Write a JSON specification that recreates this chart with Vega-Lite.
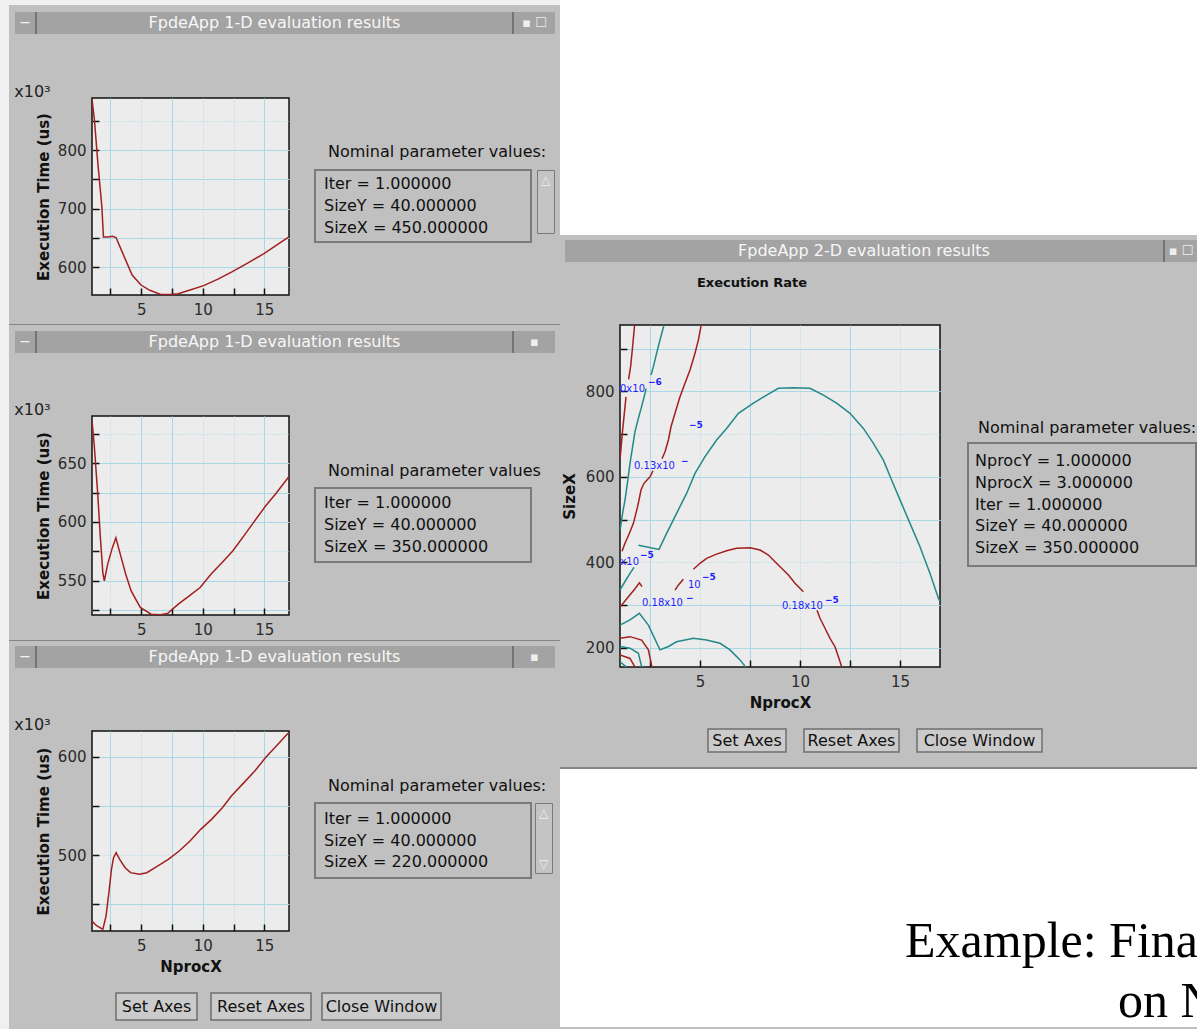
{
"$schema": "https://vega.github.io/schema/vega-lite/v6.json",
"background": "#c0c0c0",
"padding": 0,
"spacing": 0,
"config": {
  "font": "DejaVu Sans",
  "view": {"stroke": null},
  "axis": {"domain": false, "grid": true, "gridColor": "#a8d8e6", "gridWidth": 1, "ticks": true, "tickColor": "#111111", "tickSize": -7, "tickWidth": 1.5, "labelFont": "DejaVu Sans", "labelFontSize": 15, "labelColor": "#2b2b2b", "labelFlush": false, "labelOverlap": false, "titleFont": "DejaVu Sans", "titleFontSize": 15, "titleFontWeight": "bold", "titleColor": "#111111"},
  "axisX": {"labelPadding": 14, "titlePadding": 6},
  "axisY": {"labelPadding": 13, "titlePadding": 6}
},
"datasets": {
  "w1": [
    {"nprocx": 1.0, "exec_time": 887}, {"nprocx": 1.2, "exec_time": 851}, {"nprocx": 1.5, "exec_time": 772}, {"nprocx": 1.8, "exec_time": 704},
    {"nprocx": 1.93, "exec_time": 652}, {"nprocx": 2.3, "exec_time": 652}, {"nprocx": 2.66, "exec_time": 653}, {"nprocx": 2.95, "exec_time": 651},
    {"nprocx": 3.5, "exec_time": 624}, {"nprocx": 4.26, "exec_time": 587}, {"nprocx": 4.98, "exec_time": 570}, {"nprocx": 5.7, "exec_time": 561},
    {"nprocx": 6.58, "exec_time": 554}, {"nprocx": 7.3, "exec_time": 554}, {"nprocx": 8.0, "exec_time": 555}, {"nprocx": 8.9, "exec_time": 561},
    {"nprocx": 10.07, "exec_time": 569}, {"nprocx": 11.23, "exec_time": 580}, {"nprocx": 12.4, "exec_time": 593}, {"nprocx": 13.85, "exec_time": 610},
    {"nprocx": 15.0, "exec_time": 624}, {"nprocx": 16.2, "exec_time": 641}, {"nprocx": 17.0, "exec_time": 652}
  ],
  "w2": [
    {"nprocx": 1.0, "exec_time": 686.6}, {"nprocx": 1.18, "exec_time": 665.5}, {"nprocx": 1.47, "exec_time": 623.2}, {"nprocx": 1.68, "exec_time": 586.6},
    {"nprocx": 1.88, "exec_time": 557}, {"nprocx": 2.0, "exec_time": 549.9}, {"nprocx": 2.27, "exec_time": 564}, {"nprocx": 2.65, "exec_time": 578},
    {"nprocx": 2.94, "exec_time": 586.6}, {"nprocx": 3.3, "exec_time": 572.5}, {"nprocx": 3.74, "exec_time": 555.6}, {"nprocx": 4.18, "exec_time": 541.5},
    {"nprocx": 4.92, "exec_time": 527.4}, {"nprocx": 5.8, "exec_time": 521.7}, {"nprocx": 6.54, "exec_time": 521.2}, {"nprocx": 7.13, "exec_time": 522.3},
    {"nprocx": 8.01, "exec_time": 530.2}, {"nprocx": 8.9, "exec_time": 537.2}, {"nprocx": 9.78, "exec_time": 544.3}, {"nprocx": 10.66, "exec_time": 555.6},
    {"nprocx": 11.55, "exec_time": 565.4}, {"nprocx": 12.43, "exec_time": 575.3}, {"nprocx": 13.32, "exec_time": 588}, {"nprocx": 14.2, "exec_time": 600.7},
    {"nprocx": 15.08, "exec_time": 613.3}, {"nprocx": 15.97, "exec_time": 624.6}, {"nprocx": 17.0, "exec_time": 638.7}
  ],
  "w3": [
    {"nprocx": 1.0, "exec_time": 433}, {"nprocx": 1.35, "exec_time": 428.6}, {"nprocx": 1.88, "exec_time": 424.6}, {"nprocx": 2.14, "exec_time": 438.1},
    {"nprocx": 2.37, "exec_time": 461.8}, {"nprocx": 2.58, "exec_time": 485.5}, {"nprocx": 2.75, "exec_time": 497.4}, {"nprocx": 2.96, "exec_time": 502.5},
    {"nprocx": 3.25, "exec_time": 495.7}, {"nprocx": 3.69, "exec_time": 487.2}, {"nprocx": 4.13, "exec_time": 482.2}, {"nprocx": 4.86, "exec_time": 480.5},
    {"nprocx": 5.45, "exec_time": 482.2}, {"nprocx": 6.32, "exec_time": 488.9}, {"nprocx": 7.2, "exec_time": 495.7}, {"nprocx": 8.08, "exec_time": 504.2},
    {"nprocx": 8.96, "exec_time": 514.3}, {"nprocx": 9.83, "exec_time": 526.2}, {"nprocx": 10.71, "exec_time": 536.3}, {"nprocx": 11.59, "exec_time": 548.2},
    {"nprocx": 12.32, "exec_time": 560}, {"nprocx": 13.34, "exec_time": 573.6}, {"nprocx": 14.22, "exec_time": 585.4}, {"nprocx": 15.1, "exec_time": 599},
    {"nprocx": 15.97, "exec_time": 610.8}, {"nprocx": 16.85, "exec_time": 622.7}, {"nprocx": 17.0, "exec_time": 624.4}
  ],
  "par1": [{"row": 1, "line": "Iter = 1.000000"}, {"row": 2, "line": "SizeY = 40.000000"}, {"row": 3, "line": "SizeX = 450.000000"}],
  "par2": [{"row": 1, "line": "Iter = 1.000000"}, {"row": 2, "line": "SizeY = 40.000000"}, {"row": 3, "line": "SizeX = 350.000000"}],
  "par3": [{"row": 1, "line": "Iter = 1.000000"}, {"row": 2, "line": "SizeY = 40.000000"}, {"row": 3, "line": "SizeX = 220.000000"}],
  "par2d": [{"row": 1, "line": "NprocY = 1.000000"}, {"row": 2, "line": "NprocX = 3.000000"}, {"row": 3, "line": "Iter = 1.000000"}, {"row": 4, "line": "SizeY = 40.000000"}, {"row": 5, "line": "SizeX = 350.000000"}],
  "contours": [
    {"seg": "A1", "band": "odd", "nprocx": 1.73, "sizex": 955}, {"seg": "A1", "band": "odd", "nprocx": 1.63, "sizex": 904}, {"seg": "A1", "band": "odd", "nprocx": 1.53, "sizex": 857.5}, {"seg": "A1", "band": "odd", "nprocx": 1.43, "sizex": 828},
    {"seg": "A2", "band": "odd", "nprocx": 1.30, "sizex": 787}, {"seg": "A2", "band": "odd", "nprocx": 1.20, "sizex": 740.5}, {"seg": "A2", "band": "odd", "nprocx": 1.10, "sizex": 694}, {"seg": "A2", "band": "odd", "nprocx": 1.0, "sizex": 639},
    {"seg": "B1", "band": "even", "nprocx": 3.2, "sizex": 955}, {"seg": "B1", "band": "even", "nprocx": 3.0, "sizex": 920}, {"seg": "B1", "band": "even", "nprocx": 2.83, "sizex": 889}, {"seg": "B1", "band": "even", "nprocx": 2.67, "sizex": 857.5}, {"seg": "B1", "band": "even", "nprocx": 2.55, "sizex": 838},
    {"seg": "B2", "band": "even", "nprocx": 2.3, "sizex": 806}, {"seg": "B2", "band": "even", "nprocx": 2.25, "sizex": 795}, {"seg": "B2", "band": "even", "nprocx": 2.08, "sizex": 764}, {"seg": "B2", "band": "even", "nprocx": 1.92, "sizex": 737},
    {"seg": "B2", "band": "even", "nprocx": 1.75, "sizex": 705.5}, {"seg": "B2", "band": "even", "nprocx": 1.63, "sizex": 670}, {"seg": "B2", "band": "even", "nprocx": 1.5, "sizex": 631.5}, {"seg": "B2", "band": "even", "nprocx": 1.37, "sizex": 585},
    {"seg": "B2", "band": "even", "nprocx": 1.25, "sizex": 545.6}, {"seg": "B2", "band": "even", "nprocx": 1.15, "sizex": 520}, {"seg": "B2", "band": "even", "nprocx": 1.02, "sizex": 480}, {"seg": "B2", "band": "even", "nprocx": 1.0, "sizex": 474},
    {"seg": "C1", "band": "odd", "nprocx": 5.06, "sizex": 955}, {"seg": "C1", "band": "odd", "nprocx": 4.92, "sizex": 920}, {"seg": "C1", "band": "odd", "nprocx": 4.75, "sizex": 889}, {"seg": "C1", "band": "odd", "nprocx": 4.5, "sizex": 850},
    {"seg": "C1", "band": "odd", "nprocx": 4.25, "sizex": 818.6}, {"seg": "C1", "band": "odd", "nprocx": 4.0, "sizex": 787}, {"seg": "C1", "band": "odd", "nprocx": 3.75, "sizex": 748.5}, {"seg": "C1", "band": "odd", "nprocx": 3.55, "sizex": 717},
    {"seg": "C1", "band": "odd", "nprocx": 3.42, "sizex": 686}, {"seg": "C1", "band": "odd", "nprocx": 3.25, "sizex": 658.7}, {"seg": "C1", "band": "odd", "nprocx": 3.1, "sizex": 642},
    {"seg": "C2", "band": "odd", "nprocx": 2.65, "sizex": 614}, {"seg": "C2", "band": "odd", "nprocx": 2.5, "sizex": 600}, {"seg": "C2", "band": "odd", "nprocx": 2.2, "sizex": 584.7}, {"seg": "C2", "band": "odd", "nprocx": 2.05, "sizex": 569},
    {"seg": "C2", "band": "odd", "nprocx": 1.95, "sizex": 545.6}, {"seg": "C2", "band": "odd", "nprocx": 1.88, "sizex": 530}, {"seg": "C2", "band": "odd", "nprocx": 1.67, "sizex": 491}, {"seg": "C2", "band": "odd", "nprocx": 1.47, "sizex": 467.8},
    {"seg": "C2", "band": "odd", "nprocx": 1.25, "sizex": 444.4}, {"seg": "C2", "band": "odd", "nprocx": 1.1, "sizex": 426},
    {"seg": "E1", "band": "even", "nprocx": 1.0, "sizex": 335}, {"seg": "E1", "band": "even", "nprocx": 1.25, "sizex": 355}, {"seg": "E1", "band": "even", "nprocx": 1.5, "sizex": 374}, {"seg": "E1", "band": "even", "nprocx": 1.7, "sizex": 388},
    {"seg": "E2", "band": "even", "nprocx": 1.92, "sizex": 440}, {"seg": "E2", "band": "even", "nprocx": 2.95, "sizex": 430}, {"seg": "E2", "band": "even", "nprocx": 3.33, "sizex": 467.7}, {"seg": "E2", "band": "even", "nprocx": 3.83, "sizex": 514.5},
    {"seg": "E2", "band": "even", "nprocx": 4.33, "sizex": 561}, {"seg": "E2", "band": "even", "nprocx": 4.75, "sizex": 608}, {"seg": "E2", "band": "even", "nprocx": 5.25, "sizex": 647}, {"seg": "E2", "band": "even", "nprocx": 5.83, "sizex": 686},
    {"seg": "E2", "band": "even", "nprocx": 6.33, "sizex": 713}, {"seg": "E2", "band": "even", "nprocx": 6.92, "sizex": 748.5}, {"seg": "E2", "band": "even", "nprocx": 7.67, "sizex": 772}, {"seg": "E2", "band": "even", "nprocx": 8.33, "sizex": 791},
    {"seg": "E2", "band": "even", "nprocx": 8.92, "sizex": 807}, {"seg": "E2", "band": "even", "nprocx": 9.67, "sizex": 808.4}, {"seg": "E2", "band": "even", "nprocx": 10.5, "sizex": 807}, {"seg": "E2", "band": "even", "nprocx": 11.17, "sizex": 791},
    {"seg": "E2", "band": "even", "nprocx": 11.83, "sizex": 772}, {"seg": "E2", "band": "even", "nprocx": 12.5, "sizex": 748.5}, {"seg": "E2", "band": "even", "nprocx": 13.17, "sizex": 713}, {"seg": "E2", "band": "even", "nprocx": 13.67, "sizex": 678},
    {"seg": "E2", "band": "even", "nprocx": 14.17, "sizex": 639}, {"seg": "E2", "band": "even", "nprocx": 14.58, "sizex": 592.5}, {"seg": "E2", "band": "even", "nprocx": 15.0, "sizex": 546}, {"seg": "E2", "band": "even", "nprocx": 15.5, "sizex": 491},
    {"seg": "E2", "band": "even", "nprocx": 16.0, "sizex": 436.5}, {"seg": "E2", "band": "even", "nprocx": 16.5, "sizex": 374}, {"seg": "E2", "band": "even", "nprocx": 16.92, "sizex": 316}, {"seg": "E2", "band": "even", "nprocx": 17.0, "sizex": 308},
    {"seg": "F1", "band": "odd", "nprocx": 3.75, "sizex": 335}, {"seg": "F1", "band": "odd", "nprocx": 3.92, "sizex": 347}, {"seg": "F1", "band": "odd", "nprocx": 4.17, "sizex": 360},
    {"seg": "F2", "band": "odd", "nprocx": 4.67, "sizex": 383.6}, {"seg": "F2", "band": "odd", "nprocx": 5.0, "sizex": 397.6}, {"seg": "F2", "band": "odd", "nprocx": 5.33, "sizex": 409}, {"seg": "F2", "band": "odd", "nprocx": 5.83, "sizex": 419},
    {"seg": "F2", "band": "odd", "nprocx": 6.33, "sizex": 427}, {"seg": "F2", "band": "odd", "nprocx": 6.83, "sizex": 432.7}, {"seg": "F2", "band": "odd", "nprocx": 7.5, "sizex": 434}, {"seg": "F2", "band": "odd", "nprocx": 8.0, "sizex": 428.7},
    {"seg": "F2", "band": "odd", "nprocx": 8.42, "sizex": 417}, {"seg": "F2", "band": "odd", "nprocx": 8.75, "sizex": 401}, {"seg": "F2", "band": "odd", "nprocx": 9.08, "sizex": 386}, {"seg": "F2", "band": "odd", "nprocx": 9.42, "sizex": 370},
    {"seg": "F2", "band": "odd", "nprocx": 9.75, "sizex": 351}, {"seg": "F2", "band": "odd", "nprocx": 10.17, "sizex": 331},
    {"seg": "F3", "band": "odd", "nprocx": 10.85, "sizex": 288}, {"seg": "F3", "band": "odd", "nprocx": 11.0, "sizex": 269}, {"seg": "F3", "band": "odd", "nprocx": 11.25, "sizex": 245.6}, {"seg": "F3", "band": "odd", "nprocx": 11.5, "sizex": 222},
    {"seg": "F3", "band": "odd", "nprocx": 11.75, "sizex": 202.5}, {"seg": "F3", "band": "odd", "nprocx": 11.92, "sizex": 179}, {"seg": "F3", "band": "odd", "nprocx": 12.08, "sizex": 156}, {"seg": "F3", "band": "odd", "nprocx": 12.1, "sizex": 154},
    {"seg": "G", "band": "even", "nprocx": 1.0, "sizex": 253}, {"seg": "G", "band": "even", "nprocx": 1.5, "sizex": 265}, {"seg": "G", "band": "even", "nprocx": 1.97, "sizex": 280.6}, {"seg": "G", "band": "even", "nprocx": 2.42, "sizex": 253},
    {"seg": "G", "band": "even", "nprocx": 3.0, "sizex": 195}, {"seg": "G", "band": "even", "nprocx": 3.42, "sizex": 203}, {"seg": "G", "band": "even", "nprocx": 3.83, "sizex": 214}, {"seg": "G", "band": "even", "nprocx": 4.67, "sizex": 222},
    {"seg": "G", "band": "even", "nprocx": 5.33, "sizex": 218}, {"seg": "G", "band": "even", "nprocx": 6.0, "sizex": 210.5}, {"seg": "G", "band": "even", "nprocx": 6.5, "sizex": 195}, {"seg": "G", "band": "even", "nprocx": 7.0, "sizex": 171.6},
    {"seg": "G", "band": "even", "nprocx": 7.3, "sizex": 154},
    {"seg": "H", "band": "odd", "nprocx": 1.0, "sizex": 295}, {"seg": "H", "band": "odd", "nprocx": 1.4, "sizex": 318}, {"seg": "H", "band": "odd", "nprocx": 1.75, "sizex": 338}, {"seg": "H", "band": "odd", "nprocx": 1.97, "sizex": 352}, {"seg": "H", "band": "odd", "nprocx": 2.1, "sizex": 343},
    {"seg": "I", "band": "odd", "nprocx": 1.0, "sizex": 222}, {"seg": "I", "band": "odd", "nprocx": 1.5, "sizex": 226}, {"seg": "I", "band": "odd", "nprocx": 2.08, "sizex": 218}, {"seg": "I", "band": "odd", "nprocx": 2.42, "sizex": 195}, {"seg": "I", "band": "odd", "nprocx": 2.6, "sizex": 154},
    {"seg": "J", "band": "even", "nprocx": 1.0, "sizex": 203}, {"seg": "J", "band": "even", "nprocx": 1.5, "sizex": 199}, {"seg": "J", "band": "even", "nprocx": 1.92, "sizex": 187}, {"seg": "J", "band": "even", "nprocx": 2.09, "sizex": 154},
    {"seg": "K", "band": "odd", "nprocx": 1.0, "sizex": 183}, {"seg": "K", "band": "odd", "nprocx": 1.5, "sizex": 175}, {"seg": "K", "band": "odd", "nprocx": 1.76, "sizex": 154},
    {"seg": "L", "band": "even", "nprocx": 1.0, "sizex": 167}, {"seg": "L", "band": "even", "nprocx": 1.34, "sizex": 154}
  ],
  "clabels": [
    {"t": "0x10", "nprocx": 1.0, "sizex": 805}, {"t": "0.13x10", "nprocx": 1.7, "sizex": 625}, {"t": "x10", "nprocx": 1.02, "sizex": 401},
    {"t": "10", "nprocx": 4.4, "sizex": 347}, {"t": "0.18x10", "nprocx": 2.1, "sizex": 305}, {"t": "0.18x10", "nprocx": 9.1, "sizex": 298}
  ],
  "csups": [
    {"t": "−6", "nprocx": 2.4, "sizex": 822}, {"t": "−5", "nprocx": 4.45, "sizex": 721}, {"t": "−", "nprocx": 4.05, "sizex": 637}, {"t": "−5", "nprocx": 2.0, "sizex": 417},
    {"t": "−5", "nprocx": 5.1, "sizex": 365}, {"t": "−", "nprocx": 4.3, "sizex": 316}, {"t": "−5", "nprocx": 11.25, "sizex": 312}
  ]
},
"hconcat": [
  {"width": 9, "height": 1029, "view": {"fill": "#f0f0f0"}, "data": {"values": [{}]}, "mark": {"type": "rect", "opacity": 0}},
  {"spacing": 0, "vconcat": [
    {"width": 551, "height": 5, "view": {"fill": "#f0f0f0"}, "data": {"values": [{}]}, "mark": {"type": "rect", "opacity": 0}},
    {"width": 551, "height": 7, "data": {"values": [{}]}, "mark": {"type": "rect", "opacity": 0}},
    {"spacing": 0, "hconcat": [
      {"width": 6, "height": 22, "data": {"values": [{}]}, "mark": {"type": "rect", "opacity": 0}},
      {"width": 20, "height": 22, "view": {"fill": "#a3a3a3"}, "data": {"values": [{"t": "−"}]}, "mark": {"type": "text", "fontSize": 14, "color": "#f4f4f4", "baseline": "middle"}, "encoding": {"text": {"field": "t"}}},
      {"width": 2, "height": 22, "view": {"fill": "#747474"}, "data": {"values": [{}]}, "mark": {"type": "rect", "opacity": 0}},
      {"width": 475, "height": 22, "view": {"fill": "#a3a3a3"}, "data": {"values": [{"t": "FpdeApp 1-D evaluation results"}]}, "mark": {"type": "text", "fontSize": 16, "color": "#f7f7f7", "baseline": "middle"}, "encoding": {"text": {"field": "t"}}},
      {"width": 2, "height": 22, "view": {"fill": "#747474"}, "data": {"values": [{}]}, "mark": {"type": "rect", "opacity": 0}},
      {"width": 41, "height": 22, "view": {"fill": "#a3a3a3"}, "data": {"values": [{"t": "▪  ☐"}]}, "mark": {"type": "text", "fontSize": 13, "color": "#eeeeee", "baseline": "middle"}, "encoding": {"text": {"field": "t"}}},
      {"width": 5, "height": 22, "data": {"values": [{}]}, "mark": {"type": "rect", "opacity": 0}}
    ]},
    {"width": 551, "height": 49, "data": {"values": [{}]}, "mark": {"type": "rect", "opacity": 0}},
    {"spacing": 0, "hconcat": [
      {"width": 4, "height": 1, "data": {"values": [{}]}, "mark": {"type": "rect", "opacity": 0}},
      {"width": 197, "height": 197,
       "title": {"text": "x10³", "anchor": "start", "frame": "bounds", "dx": -22, "offset": -18, "baseline": "bottom", "fontSize": 16, "fontWeight": "normal", "color": "#222222"},
       "view": {"fill": "#ececec", "stroke": "#111111", "strokeWidth": 1.5},
       "data": {"name": "w1"},
       "mark": {"type": "line", "color": "#a31f1f", "strokeWidth": 1.5, "clip": true},
       "encoding": {
         "x": {"field": "nprocx", "type": "quantitative", "scale": {"domain": [1, 17], "nice": false, "zero": false},
               "axis": {"title": null, "values": [2.5, 5, 7.5, 10, 12.5, 15], "labelExpr": "datum.value % 5 === 0 ? datum.label : ''",
                        "gridDash": {"condition": {"test": "indexof([5, 10, 12.5], datum.value) >= 0", "value": [1, 2]}, "value": []}}},
         "y": {"field": "exec_time", "type": "quantitative", "scale": {"domain": [553, 889], "nice": false, "zero": false},
               "axis": {"title": "Execution Time (us)", "values": [600, 650, 700, 750, 800, 850], "labelExpr": "datum.value % 100 === 0 ? datum.label : ''",
                        "gridDash": {"condition": {"test": "datum.value === 850", "value": [1, 2]}, "value": []}}}
       }},
      {"width": 24, "height": 1, "data": {"values": [{}]}, "mark": {"type": "rect", "opacity": 0}},
      {"spacing": 0, "vconcat": [
        {"width": 216, "height": 46, "data": {"values": [{}]}, "mark": {"type": "rect", "opacity": 0}},
        {"width": 216, "height": 25, "data": {"values": [{"t": "Nominal parameter values:"}]}, "mark": {"type": "text", "align": "left", "baseline": "middle", "dx": -95, "dy": -4.5, "fontSize": 16, "color": "#111111"}, "encoding": {"text": {"field": "t"}}},
        {"spacing": 0, "hconcat": [
          {"width": 216, "height": 72, "view": {"fill": "#c0c0c0", "stroke": "#7a7a7a", "strokeWidth": 2}, "data": {"name": "par1"}, "mark": {"type": "text", "align": "left", "baseline": "middle", "dx": -99, "fontSize": 16, "color": "#111111"},
           "encoding": {"y": {"field": "row", "type": "ordinal", "axis": null, "scale": {"type": "point", "padding": 0.636}}, "text": {"field": "line"}}},
          {"width": 4, "height": 1, "data": {"values": [{}]}, "mark": {"type": "rect", "opacity": 0}},
          {"width": 17, "height": 63, "view": {"fill": "#c4c4c4", "stroke": "#7a7a7a"}, "data": {"values": [{"t": "△"}]}, "mark": {"type": "text", "fontSize": 12, "color": "#f0f0f0", "baseline": "middle", "dy": -22}, "encoding": {"text": {"field": "t"}}}
        ]}
      ]}
    ]},
    {"width": 551, "height": 6, "data": {"values": [{}]}, "mark": {"type": "rect", "opacity": 0}},
    {"width": 551, "height": 1, "view": {"fill": "#858585"}, "data": {"values": [{}]}, "mark": {"type": "rect", "opacity": 0}},
    {"width": 551, "height": 6, "data": {"values": [{}]}, "mark": {"type": "rect", "opacity": 0}},
    {"spacing": 0, "hconcat": [
      {"width": 6, "height": 22, "data": {"values": [{}]}, "mark": {"type": "rect", "opacity": 0}},
      {"width": 20, "height": 22, "view": {"fill": "#a3a3a3"}, "data": {"values": [{"t": "−"}]}, "mark": {"type": "text", "fontSize": 14, "color": "#f4f4f4", "baseline": "middle"}, "encoding": {"text": {"field": "t"}}},
      {"width": 2, "height": 22, "view": {"fill": "#747474"}, "data": {"values": [{}]}, "mark": {"type": "rect", "opacity": 0}},
      {"width": 475, "height": 22, "view": {"fill": "#a3a3a3"}, "data": {"values": [{"t": "FpdeApp 1-D evaluation results"}]}, "mark": {"type": "text", "fontSize": 16, "color": "#f7f7f7", "baseline": "middle"}, "encoding": {"text": {"field": "t"}}},
      {"width": 2, "height": 22, "view": {"fill": "#747474"}, "data": {"values": [{}]}, "mark": {"type": "rect", "opacity": 0}},
      {"width": 41, "height": 22, "view": {"fill": "#a3a3a3"}, "data": {"values": [{"t": "▪"}]}, "mark": {"type": "text", "fontSize": 13, "color": "#eeeeee", "baseline": "middle"}, "encoding": {"text": {"field": "t"}}},
      {"width": 5, "height": 22, "data": {"values": [{}]}, "mark": {"type": "rect", "opacity": 0}}
    ]},
    {"width": 551, "height": 48, "data": {"values": [{}]}, "mark": {"type": "rect", "opacity": 0}},
    {"spacing": 0, "hconcat": [
      {"width": 4, "height": 1, "data": {"values": [{}]}, "mark": {"type": "rect", "opacity": 0}},
      {"width": 197, "height": 199,
       "title": {"text": "x10³", "anchor": "start", "frame": "bounds", "dx": -22, "offset": -18, "baseline": "bottom", "fontSize": 16, "fontWeight": "normal", "color": "#222222"},
       "view": {"fill": "#ececec", "stroke": "#111111", "strokeWidth": 1.5},
       "data": {"name": "w2"},
       "mark": {"type": "line", "color": "#a31f1f", "strokeWidth": 1.5, "clip": true},
       "encoding": {
         "x": {"field": "nprocx", "type": "quantitative", "scale": {"domain": [1, 17], "nice": false, "zero": false},
               "axis": {"title": null, "values": [2.5, 5, 7.5, 10, 12.5, 15], "labelExpr": "datum.value % 5 === 0 ? datum.label : ''",
                        "gridDash": {"condition": {"test": "indexof([2.5, 10, 12.5], datum.value) >= 0", "value": [1, 2]}, "value": []}}},
         "y": {"field": "exec_time", "type": "quantitative", "scale": {"domain": [521, 690], "nice": false, "zero": false},
               "axis": {"title": "Execution Time (us)", "values": [525, 550, 575, 600, 625, 650, 675], "labelExpr": "datum.value % 50 === 0 ? datum.label : ''",
                        "gridDash": {"condition": {"test": "indexof([575, 675], datum.value) >= 0", "value": [1, 2]}, "value": []}}}
       }},
      {"width": 24, "height": 1, "data": {"values": [{}]}, "mark": {"type": "rect", "opacity": 0}},
      {"spacing": 0, "vconcat": [
        {"width": 216, "height": 46, "data": {"values": [{}]}, "mark": {"type": "rect", "opacity": 0}},
        {"width": 216, "height": 25, "data": {"values": [{"t": "Nominal parameter values"}]}, "mark": {"type": "text", "align": "left", "baseline": "middle", "dx": -95, "dy": -3.5, "fontSize": 16, "color": "#111111"}, "encoding": {"text": {"field": "t"}}},
        {"width": 216, "height": 74, "view": {"fill": "#c0c0c0", "stroke": "#7a7a7a", "strokeWidth": 2}, "data": {"name": "par2"}, "mark": {"type": "text", "align": "left", "baseline": "middle", "dx": -99, "fontSize": 16, "color": "#111111"},
         "encoding": {"y": {"field": "row", "type": "ordinal", "axis": null, "scale": {"type": "point", "padding": 0.7}}, "text": {"field": "line"}}}
      ]}
    ]},
    {"width": 551, "height": 2, "data": {"values": [{}]}, "mark": {"type": "rect", "opacity": 0}},
    {"width": 551, "height": 1, "view": {"fill": "#858585"}, "data": {"values": [{}]}, "mark": {"type": "rect", "opacity": 0}},
    {"width": 551, "height": 5, "data": {"values": [{}]}, "mark": {"type": "rect", "opacity": 0}},
    {"spacing": 0, "hconcat": [
      {"width": 6, "height": 22, "data": {"values": [{}]}, "mark": {"type": "rect", "opacity": 0}},
      {"width": 20, "height": 22, "view": {"fill": "#a3a3a3"}, "data": {"values": [{"t": "−"}]}, "mark": {"type": "text", "fontSize": 14, "color": "#f4f4f4", "baseline": "middle"}, "encoding": {"text": {"field": "t"}}},
      {"width": 2, "height": 22, "view": {"fill": "#747474"}, "data": {"values": [{}]}, "mark": {"type": "rect", "opacity": 0}},
      {"width": 475, "height": 22, "view": {"fill": "#a3a3a3"}, "data": {"values": [{"t": "FpdeApp 1-D evaluation results"}]}, "mark": {"type": "text", "fontSize": 16, "color": "#f7f7f7", "baseline": "middle"}, "encoding": {"text": {"field": "t"}}},
      {"width": 2, "height": 22, "view": {"fill": "#747474"}, "data": {"values": [{}]}, "mark": {"type": "rect", "opacity": 0}},
      {"width": 41, "height": 22, "view": {"fill": "#a3a3a3"}, "data": {"values": [{"t": "▪"}]}, "mark": {"type": "text", "fontSize": 13, "color": "#eeeeee", "baseline": "middle"}, "encoding": {"text": {"field": "t"}}},
      {"width": 5, "height": 22, "data": {"values": [{}]}, "mark": {"type": "rect", "opacity": 0}}
    ]},
    {"width": 551, "height": 48, "data": {"values": [{}]}, "mark": {"type": "rect", "opacity": 0}},
    {"spacing": 0, "hconcat": [
      {"width": 4, "height": 1, "data": {"values": [{}]}, "mark": {"type": "rect", "opacity": 0}},
      {"width": 197, "height": 200,
       "title": {"text": "x10³", "anchor": "start", "frame": "bounds", "dx": -22, "offset": -18, "baseline": "bottom", "fontSize": 16, "fontWeight": "normal", "color": "#222222"},
       "view": {"fill": "#ececec", "stroke": "#111111", "strokeWidth": 1.5},
       "data": {"name": "w3"},
       "mark": {"type": "line", "color": "#a31f1f", "strokeWidth": 1.5, "clip": true},
       "encoding": {
         "x": {"field": "nprocx", "type": "quantitative", "scale": {"domain": [1, 17], "nice": false, "zero": false},
               "axis": {"title": "NprocX", "values": [2.5, 5, 7.5, 10, 12.5, 15], "labelExpr": "datum.value % 5 === 0 ? datum.label : ''",
                        "gridDash": {"condition": {"test": "indexof([5, 12.5], datum.value) >= 0", "value": [1, 2]}, "value": []}}},
         "y": {"field": "exec_time", "type": "quantitative", "scale": {"domain": [423, 626], "nice": false, "zero": false},
               "axis": {"title": "Execution Time (us)", "values": [450, 500, 550, 600], "labelExpr": "datum.value % 100 === 0 ? datum.label : ''",
                        "gridDash": {"condition": {"test": "datum.value === 500", "value": [1, 2]}, "value": []}}}
       }},
      {"width": 24, "height": 1, "data": {"values": [{}]}, "mark": {"type": "rect", "opacity": 0}},
      {"spacing": 0, "vconcat": [
        {"width": 216, "height": 46, "data": {"values": [{}]}, "mark": {"type": "rect", "opacity": 0}},
        {"width": 216, "height": 25, "data": {"values": [{"t": "Nominal parameter values:"}]}, "mark": {"type": "text", "align": "left", "baseline": "middle", "dx": -95, "dy": -3.5, "fontSize": 16, "color": "#111111"}, "encoding": {"text": {"field": "t"}}},
        {"spacing": 0, "hconcat": [
          {"width": 216, "height": 75, "view": {"fill": "#c0c0c0", "stroke": "#7a7a7a", "strokeWidth": 2}, "data": {"name": "par3"}, "mark": {"type": "text", "align": "left", "baseline": "middle", "dx": -99, "fontSize": 16, "color": "#111111"},
           "encoding": {"y": {"field": "row", "type": "ordinal", "axis": null, "scale": {"type": "point", "padding": 0.75}}, "text": {"field": "line"}}},
          {"width": 2, "height": 1, "data": {"values": [{}]}, "mark": {"type": "rect", "opacity": 0}},
          {"width": 17, "height": 70, "view": {"fill": "#c4c4c4", "stroke": "#7a7a7a"},
           "layer": [
             {"data": {"values": [{"t": "△"}]}, "mark": {"type": "text", "fontSize": 12, "color": "#f0f0f0", "baseline": "middle", "dy": -25}, "encoding": {"text": {"field": "t"}}},
             {"data": {"values": [{"t": "▽"}]}, "mark": {"type": "text", "fontSize": 12, "color": "#f0f0f0", "baseline": "middle", "dy": 26}, "encoding": {"text": {"field": "t"}}}
           ]}
        ]}
      ]}
    ]},
    {"width": 551, "height": 17, "data": {"values": [{}]}, "mark": {"type": "rect", "opacity": 0}},
    {"spacing": 0, "hconcat": [
      {"width": 106, "height": 27, "data": {"values": [{}]}, "mark": {"type": "rect", "opacity": 0}},
      {"width": 81, "height": 27, "view": {"fill": "#cbcbcb", "stroke": "#6f6f6f", "strokeWidth": 1.5}, "data": {"values": [{"t": "Set Axes"}]}, "mark": {"type": "text", "fontSize": 16, "color": "#111111", "baseline": "middle"}, "encoding": {"text": {"field": "t"}}},
      {"width": 12, "height": 27, "data": {"values": [{}]}, "mark": {"type": "rect", "opacity": 0}},
      {"width": 100, "height": 27, "view": {"fill": "#cbcbcb", "stroke": "#6f6f6f", "strokeWidth": 1.5}, "data": {"values": [{"t": "Reset Axes"}]}, "mark": {"type": "text", "fontSize": 16, "color": "#111111", "baseline": "middle"}, "encoding": {"text": {"field": "t"}}},
      {"width": 9, "height": 27, "data": {"values": [{}]}, "mark": {"type": "rect", "opacity": 0}},
      {"width": 119, "height": 27, "view": {"fill": "#cbcbcb", "stroke": "#6f6f6f", "strokeWidth": 1.5}, "data": {"values": [{"t": "Close Window"}]}, "mark": {"type": "text", "fontSize": 16, "color": "#111111", "baseline": "middle"}, "encoding": {"text": {"field": "t"}}}
    ]},
    {"width": 551, "height": 6, "data": {"values": [{}]}, "mark": {"type": "rect", "opacity": 0}}
  ]},
  {"spacing": 0, "vconcat": [
    {"width": 637, "height": 235, "view": {"fill": "#ffffff"}, "data": {"values": [{}]}, "mark": {"type": "rect", "opacity": 0}},
    {"width": 637, "height": 5, "data": {"values": [{}]}, "mark": {"type": "rect", "opacity": 0}},
    {"spacing": 0, "hconcat": [
      {"width": 5, "height": 22, "data": {"values": [{}]}, "mark": {"type": "rect", "opacity": 0}},
      {"width": 598, "height": 22, "view": {"fill": "#a3a3a3"}, "data": {"values": [{"t": "FpdeApp 2-D evaluation results"}]}, "mark": {"type": "text", "fontSize": 16, "color": "#f7f7f7", "baseline": "middle"}, "encoding": {"text": {"field": "t"}}},
      {"width": 2, "height": 22, "view": {"fill": "#747474"}, "data": {"values": [{}]}, "mark": {"type": "rect", "opacity": 0}},
      {"width": 32, "height": 22, "view": {"fill": "#a3a3a3"}, "data": {"values": [{"t": "▪ ☐"}]}, "mark": {"type": "text", "fontSize": 13, "color": "#eeeeee", "baseline": "middle"}, "encoding": {"text": {"field": "t"}}}
    ]},
    {"width": 637, "height": 14, "data": {"values": [{}]}, "mark": {"type": "rect", "opacity": 0}},
    {"spacing": 0, "hconcat": [
      {"width": 1, "height": 1, "data": {"values": [{}]}, "mark": {"type": "rect", "opacity": 0}},
      {"width": 320, "height": 342,
       "title": {"text": "Execution Rate", "anchor": "middle", "frame": "group", "dx": -28, "offset": 22, "baseline": "bottom", "fontSize": 13, "fontWeight": "bold", "color": "#111111"},
       "view": {"fill": "#ececec", "stroke": "#111111", "strokeWidth": 1.5},
       "encoding": {
         "x": {"field": "nprocx", "type": "quantitative", "scale": {"domain": [1, 17], "nice": false, "zero": false},
               "axis": {"title": "NprocX", "values": [2.5, 5, 7.5, 10, 12.5, 15], "labelExpr": "datum.value % 5 === 0 ? datum.label : ''",
                        "gridDash": {"condition": {"test": "indexof([5, 10, 15], datum.value) >= 0", "value": [1, 2]}, "value": []}}},
         "y": {"field": "sizex", "type": "quantitative", "scale": {"domain": [155, 955], "nice": false, "zero": false},
               "axis": {"title": "SizeX", "titlePadding": 8, "values": [200, 300, 400, 500, 600, 700, 800, 900], "labelExpr": "datum.value % 200 === 0 ? datum.label : ''",
                        "gridDash": {"condition": {"test": "indexof([400, 700], datum.value) >= 0", "value": [1, 2]}, "value": []}}}
       },
       "layer": [
         {"data": {"name": "contours"}, "mark": {"type": "line", "strokeWidth": 1.5, "clip": true},
          "encoding": {"color": {"field": "band", "type": "nominal", "scale": {"domain": ["odd", "even"], "range": ["#a31f1f", "#22898a"]}, "legend": null},
                       "detail": {"field": "seg", "type": "nominal"}, "order": {"value": null}}},
         {"data": {"name": "clabels"}, "mark": {"type": "text", "align": "left", "baseline": "middle", "fontSize": 10, "color": "#1f1fff"},
          "encoding": {"text": {"field": "t"}}},
         {"data": {"name": "csups"}, "mark": {"type": "text", "align": "left", "baseline": "middle", "fontSize": 9, "fontWeight": "bold", "color": "#1f1fff"},
          "encoding": {"text": {"field": "t"}}}
       ]},
      {"width": 26, "height": 1, "data": {"values": [{}]}, "mark": {"type": "rect", "opacity": 0}},
      {"spacing": 0, "vconcat": [
        {"width": 228, "height": 92, "data": {"values": [{}]}, "mark": {"type": "rect", "opacity": 0}},
        {"width": 228, "height": 25, "data": {"values": [{"t": "Nominal parameter values:"}]}, "mark": {"type": "text", "align": "left", "baseline": "middle", "dx": -104, "dy": -1.5, "fontSize": 16, "color": "#111111"}, "encoding": {"text": {"field": "t"}}},
        {"width": 228, "height": 123, "view": {"fill": "#c0c0c0", "stroke": "#7a7a7a", "strokeWidth": 2}, "data": {"name": "par2d"}, "mark": {"type": "text", "align": "left", "baseline": "middle", "dx": -107, "fontSize": 16, "color": "#111111"},
         "encoding": {"y": {"field": "row", "type": "ordinal", "axis": null, "scale": {"type": "point", "padding": 0.83}}, "text": {"field": "line"}}}
      ]}
    ]},
    {"width": 637, "height": 17, "data": {"values": [{}]}, "mark": {"type": "rect", "opacity": 0}},
    {"spacing": 0, "hconcat": [
      {"width": 147, "height": 23, "data": {"values": [{}]}, "mark": {"type": "rect", "opacity": 0}},
      {"width": 78, "height": 23, "view": {"fill": "#cbcbcb", "stroke": "#6f6f6f", "strokeWidth": 1.5}, "data": {"values": [{"t": "Set Axes"}]}, "mark": {"type": "text", "fontSize": 16, "color": "#111111", "baseline": "middle"}, "encoding": {"text": {"field": "t"}}},
      {"width": 16, "height": 23, "data": {"values": [{}]}, "mark": {"type": "rect", "opacity": 0}},
      {"width": 95, "height": 23, "view": {"fill": "#cbcbcb", "stroke": "#6f6f6f", "strokeWidth": 1.5}, "data": {"values": [{"t": "Reset Axes"}]}, "mark": {"type": "text", "fontSize": 16, "color": "#111111", "baseline": "middle"}, "encoding": {"text": {"field": "t"}}},
      {"width": 16, "height": 23, "data": {"values": [{}]}, "mark": {"type": "rect", "opacity": 0}},
      {"width": 125, "height": 23, "view": {"fill": "#cbcbcb", "stroke": "#6f6f6f", "strokeWidth": 1.5}, "data": {"values": [{"t": "Close Window"}]}, "mark": {"type": "text", "fontSize": 16, "color": "#111111", "baseline": "middle"}, "encoding": {"text": {"field": "t"}}}
    ]},
    {"width": 637, "height": 14, "data": {"values": [{}]}, "mark": {"type": "rect", "opacity": 0}},
    {"width": 637, "height": 2, "view": {"fill": "#858585"}, "data": {"values": [{}]}, "mark": {"type": "rect", "opacity": 0}},
    {"width": 637, "height": 258, "view": {"fill": "#ffffff"},
     "layer": [
       {"data": {"values": [{"t": "Example: Final evaluation results"}]}, "mark": {"type": "text", "font": "Liberation Serif", "fontSize": 50, "align": "left", "baseline": "alphabetic", "dx": 26.5, "dy": 58.5, "clip": true, "color": "#000000"}, "encoding": {"text": {"field": "t"}}},
       {"data": {"values": [{"t": "on NprocX and SizeX"}]}, "mark": {"type": "text", "font": "Liberation Serif", "fontSize": 50, "align": "left", "baseline": "alphabetic", "dx": 239.5, "dy": 118.5, "clip": true, "color": "#000000"}, "encoding": {"text": {"field": "t"}}}
     ]}
  ]}
]
}
